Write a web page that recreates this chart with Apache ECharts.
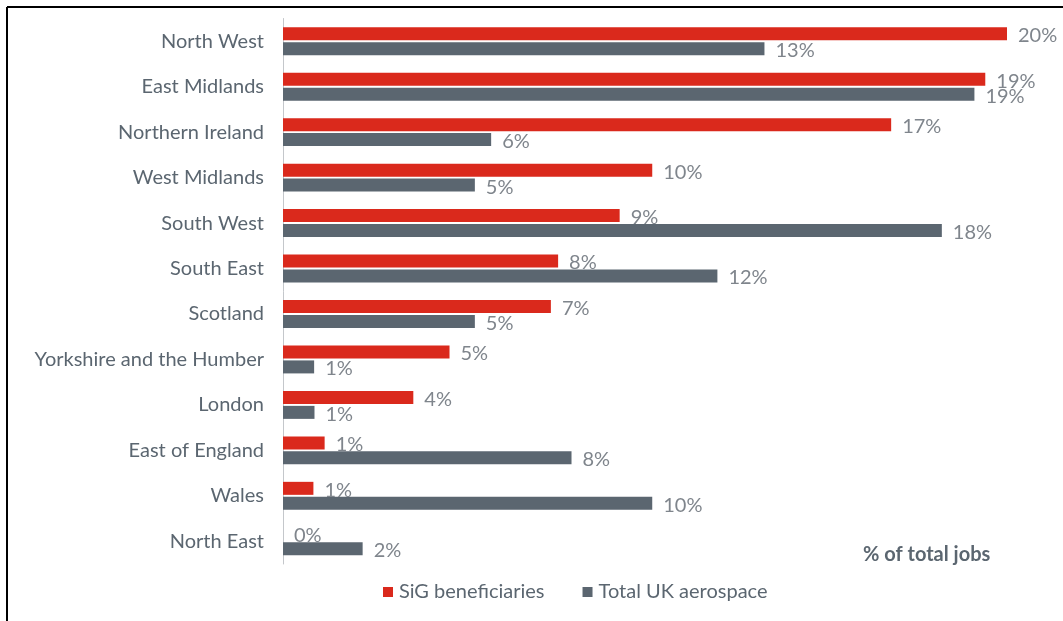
<!DOCTYPE html>
<html>
<head>
<meta charset="utf-8">
<title>Regional share of jobs</title>
<script src="https://cdn.jsdelivr.net/npm/echarts@6/dist/echarts.min.js"></script>
<style>
  html, body { margin: 0; padding: 0; background: #ffffff; }
  #chart { width: 1063px; height: 621px; }
</style>
</head>
<body>
<div id="chart"></div>
<script>
// Regions, top to bottom
const regions = [
  'North West', 'East Midlands', 'Northern Ireland', 'West Midlands',
  'South West', 'South East', 'Scotland', 'Yorkshire and the Humber',
  'London', 'East of England', 'Wales', 'North East'
];

// Share of total jobs by region (%)
const sigBeneficiaries = [20.0, 19.4, 16.8, 10.2, 9.3, 7.6, 7.4, 4.6, 3.6, 1.15, 0.84, 0];
const totalUkAerospace = [13.3, 19.1, 5.75, 5.3, 18.2, 12.0, 5.3, 0.86, 0.87, 7.97, 10.2, 2.2];

const seriesNames = ['SiG beneficiaries', 'Total UK aerospace'];
const axisTitle = '% of total jobs';

const FONT = 'Lato, "Noto Sans", sans-serif';
const RED = '#da291c';
const GREY = '#5b6670';

const chart = echarts.init(document.getElementById('chart'), null, { renderer: 'canvas' });

const valueLabel = {
  show: true,
  position: 'right',
  distance: 11,
  offset: [0, 2],
  color: '#7f858c',
  fontFamily: FONT,
  fontSize: 20,
  formatter: p => Math.round(p.value) + '%'
};

chart.setOption({
  animation: false,
  backgroundColor: '#ffffff',
  grid: { left: 283, top: 18.5, width: 724, height: 545.5, containLabel: false },
  xAxis: {
    type: 'value',
    min: 0,
    max: 20,
    show: false
  },
  yAxis: {
    type: 'category',
    data: regions,
    inverse: true,
    axisLine: { show: true, lineStyle: { color: '#c4c7cb', width: 1 } },
    axisTick: { show: false },
    axisLabel: {
      color: '#5b6670',
      fontFamily: FONT,
      fontSize: 20,
      margin: 19
    }
  },
  legend: {
    data: seriesNames,
    left: 383,
    top: 582,
    padding: 0,
    itemWidth: 10,
    itemHeight: 10,
    itemGap: 38,
    icon: 'rect',
    textStyle: { color: '#5b6670', fontFamily: FONT, fontSize: 20, width: 156, padding: [0, 0, 0, 1] }
  },
  series: [
    {
      name: seriesNames[0],
      type: 'bar',
      data: sigBeneficiaries,
      barWidth: 13,
      barGap: '15%',
      itemStyle: { color: RED },
      label: valueLabel
    },
    {
      name: seriesNames[1],
      type: 'bar',
      data: totalUkAerospace,
      barWidth: 13,
      barGap: '15%',
      itemStyle: { color: GREY },
      label: valueLabel
    }
  ],
  graphic: [
    {
      type: 'text',
      left: 863,
      top: 545,
      style: {
        text: axisTitle,
        fill: '#5b6670',
        font: 'bold 20px ' + FONT
      }
    },
    {
      type: 'line',
      shape: { x1: 7, y1: 7, x2: 1063, y2: 7 },
      style: { stroke: '#000000', lineWidth: 2 }
    },
    {
      type: 'line',
      shape: { x1: 7, y1: 7, x2: 7, y2: 621 },
      style: { stroke: '#000000', lineWidth: 2 }
    }
  ]
});
</script>
</body>
</html>
